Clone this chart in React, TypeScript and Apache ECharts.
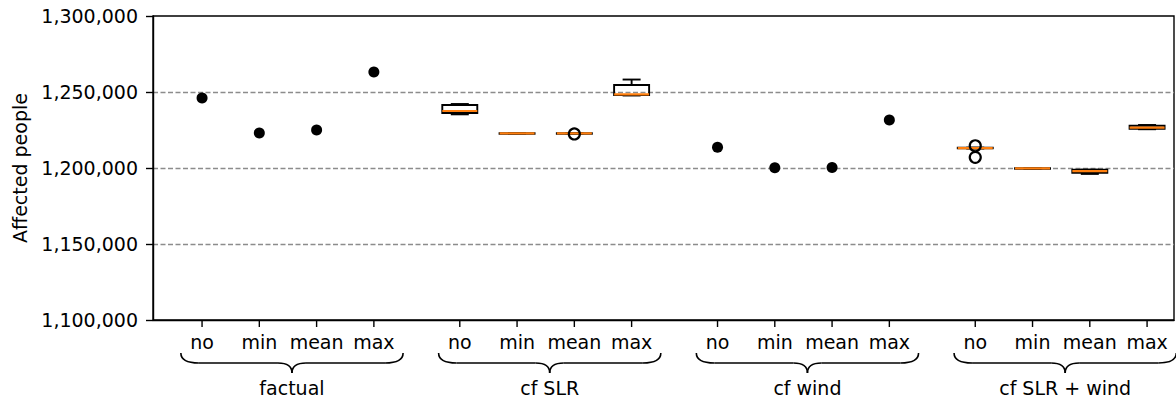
import { useEffect, useRef } from 'react';
import * as echarts from 'echarts';

const groupNames = ['factual', 'cf SLR', 'cf wind', 'cf SLR + wind'];
const scenarioNames = ['no', 'min', 'mean', 'max'];

// single values (filled dots)
const factualValues = [1246000, 1223000, 1225000, 1263200];
const cfWindValues = [1213600, 1200100, 1200300, 1231600];

// box statistics: [min, q1, median, q3, max]
const cfSlrBoxes = [
  [1235300, 1236200, 1237500, 1241400, 1242100],
  [1222700, 1222700, 1222800, 1222900, 1222900],
  [1222800, 1222800, 1222800, 1222900, 1222900],
  [1247700, 1248000, 1248500, 1254600, 1258200],
];
const cfSlrWindBoxes = [
  [1212800, 1212900, 1213100, 1213300, 1213400],
  [1199600, 1199600, 1199700, 1199800, 1199800],
  [1196100, 1196900, 1198000, 1198900, 1198900],
  [1225500, 1225800, 1226500, 1227800, 1228300],
];
// outliers: [scenario index, value]
const cfSlrOutliers = [[2, 1222400]];
const cfSlrWindOutliers = [
  [0, 1214600],
  [0, 1207000],
];

const yMin = 1100000;
const yMax = 1300000;
const yStep = 50000;

const FONT = "'DejaVu Sans', sans-serif";
const pos = (g: number, i: number) => 1 + g * 4.5 + i;

export default function App() {
  const ref = useRef<HTMLDivElement>(null);
  useEffect(() => {
    const chart = echarts.init(ref.current!, null, { renderer: 'svg' });

    const dotData = [
      ...factualValues.map((v, i) => [pos(0, i), v]),
      ...cfWindValues.map((v, i) => [pos(2, i), v]),
    ];
    const boxData = [
      ...cfSlrBoxes.map((b, i) => [pos(1, i), ...b]),
      ...cfSlrWindBoxes.map((b, i) => [pos(3, i), ...b]),
    ];
    const outlierData = [
      ...cfSlrOutliers.map(([i, v]) => [pos(1, i), v]),
      ...cfSlrWindOutliers.map(([i, v]) => [pos(3, i), v]),
    ];
    const tickData: number[][] = [];
    groupNames.forEach((_, g) => scenarioNames.forEach((_, i) => tickData.push([pos(g, i), i])));
    const braceData = groupNames.map((_, g) => [pos(g, 0), pos(g, 3), g]);

    const option: any = {
      animation: false,
      grid: {
        left: 153,
        right: 2,
        top: 16,
        bottom: 82,
        show: true,
        borderColor: '#000',
        borderWidth: 1.4,
        backgroundColor: 'transparent',
      },
      xAxis: {
        type: 'value',
        min: 0.1435,
        max: 17.97,
        axisLine: { show: true, lineStyle: { color: '#000', width: 1.4 } },
        axisTick: { show: false },
        axisLabel: { show: false },
        splitLine: { show: false },
      },
      yAxis: {
        type: 'value',
        min: yMin,
        max: yMax,
        interval: yStep,
        name: 'Affected people',
        nameLocation: 'middle',
        nameGap: 124,
        nameTextStyle: { color: '#000', fontSize: 19, fontFamily: FONT },
        axisLine: { show: true, lineStyle: { color: '#000', width: 1.4 } },
        axisTick: { show: true, length: 7, lineStyle: { color: '#000', width: 1.4 } },
        axisLabel: {
          color: '#000',
          fontSize: 19,
          fontFamily: FONT,
          margin: 15,
          formatter: (v: number) => v.toLocaleString('en-US'),
        },
        splitLine: {
          show: true,
          showMinLine: false,
          showMaxLine: false,
          lineStyle: { color: '#8c8c8c', type: [5, 2.5], width: 1.3 },
        },
      },
      series: [
        {
          type: 'scatter',
          data: dotData,
          symbol: 'circle',
          symbolSize: 11,
          itemStyle: { color: '#000', opacity: 1 },
          z: 5,
        },
        {
          type: 'custom',
          data: boxData,
          z: 4,
          renderItem: (params: any, api: any) => {
            const x = api.value(0);
            const [cx, yMinP] = api.coord([x, api.value(1)]);
            const yQ1 = api.coord([x, api.value(2)])[1];
            const yMed = api.coord([x, api.value(3)])[1];
            const yQ3 = api.coord([x, api.value(4)])[1];
            const yMaxP = api.coord([x, api.value(5)])[1];
            const hw = 17.5;
            const cw = 9;
            const ls = { stroke: '#000', lineWidth: 1.9 };
            return {
              type: 'group',
              children: [
                { type: 'line', shape: { x1: cx, y1: yMaxP, x2: cx, y2: yQ3 }, style: ls },
                { type: 'line', shape: { x1: cx, y1: yQ1, x2: cx, y2: yMinP }, style: ls },
                { type: 'line', shape: { x1: cx - cw, y1: yMaxP, x2: cx + cw, y2: yMaxP }, style: ls },
                { type: 'line', shape: { x1: cx - cw, y1: yMinP, x2: cx + cw, y2: yMinP }, style: ls },
                {
                  type: 'rect',
                  shape: { x: cx - hw, y: yQ3, width: hw * 2, height: Math.max(yQ1 - yQ3, 0.5) },
                  style: { fill: 'none', stroke: '#000', lineWidth: 1.9 },
                },
                {
                  type: 'line',
                  shape: { x1: cx - hw, y1: yMed, x2: cx + hw, y2: yMed },
                  style: { stroke: '#ff7f0e', lineWidth: 2.2 },
                },
              ],
            };
          },
        },
        {
          type: 'scatter',
          data: outlierData,
          symbol: 'circle',
          symbolSize: 11,
          itemStyle: { color: 'rgba(0,0,0,0)', borderColor: '#000', borderWidth: 2.2, opacity: 1 },
          z: 6,
        },
        {
          type: 'custom',
          data: tickData,
          clip: false,
          silent: true,
          renderItem: (params: any, api: any) => {
            const x = api.value(0);
            const idx = api.value(1);
            const [cx, yb] = api.coord([x, yMin]);
            return {
              type: 'group',
              children: [
                { type: 'line', shape: { x1: cx, y1: yb, x2: cx, y2: yb + 7 }, style: { stroke: '#000', lineWidth: 1.4 } },
                {
                  type: 'text',
                  style: {
                    x: cx,
                    y: yb + 22,
                    text: scenarioNames[idx],
                    fill: '#000',
                    fontSize: 19,
                    fontFamily: FONT,
                    align: 'center',
                    verticalAlign: 'middle',
                  },
                },
              ],
            };
          },
        },
        {
          type: 'custom',
          data: braceData,
          clip: false,
          silent: true,
          renderItem: (params: any, api: any) => {
            const p0 = api.value(0);
            const p1 = api.value(1);
            const g = api.value(2);
            const mid = (p0 + p1) / 2 + 0.07;
            const half = 1.94;
            const xl = api.coord([mid - half, yMin])[0];
            const xr = api.coord([mid + half, yMin])[0];
            const [xc, yb] = api.coord([mid, yMin]);
            const y0 = yb + 33;
            const y1 = yb + 43;
            const y2 = yb + 53;
            const r = 18;
            const rc = 14;
            const st = { stroke: '#000', lineWidth: 1.6, fill: 'none' };
            return {
              type: 'group',
              children: [
                { type: 'bezierCurve', shape: { x1: xl, y1: y0, cpx1: xl, cpy1: y1, x2: xl + r, y2: y1 }, style: st },
                { type: 'line', shape: { x1: xl + r, y1: y1, x2: xc - rc, y2: y1 }, style: st },
                { type: 'bezierCurve', shape: { x1: xc - rc, y1: y1, cpx1: xc, cpy1: y1, x2: xc, y2: y2 }, style: st },
                { type: 'bezierCurve', shape: { x1: xc, y1: y2, cpx1: xc, cpy1: y1, x2: xc + rc, y2: y1 }, style: st },
                { type: 'line', shape: { x1: xc + rc, y1: y1, x2: xr - r, y2: y1 }, style: st },
                { type: 'bezierCurve', shape: { x1: xr - r, y1: y1, cpx1: xr, cpy1: y1, x2: xr, y2: y0 }, style: st },
                {
                  type: 'text',
                  style: {
                    x: xc,
                    y: yb + 68,
                    text: groupNames[g],
                    fill: '#000',
                    fontSize: 19,
                    fontFamily: FONT,
                    align: 'center',
                    verticalAlign: 'middle',
                  },
                },
              ],
            };
          },
        },
      ],
    };
    chart.setOption(option);
    return () => chart.dispose();
  }, []);
  return (
    <div
      ref={ref}
      style={{ position: 'fixed', left: 0, top: 0, width: 1176, height: 402, background: '#fff' }}
    />
  );
}
